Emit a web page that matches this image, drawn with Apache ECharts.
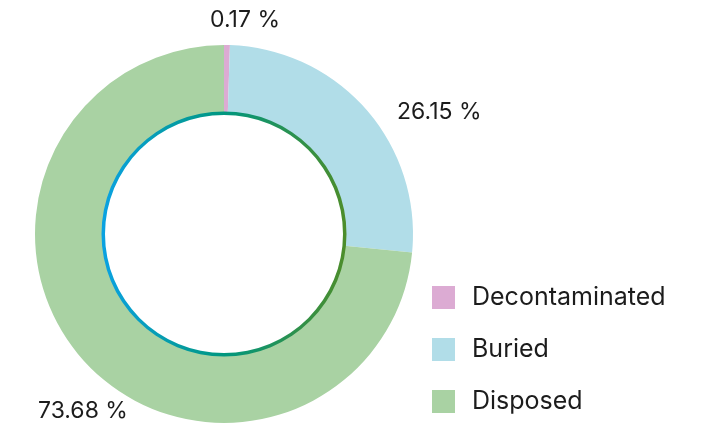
<!DOCTYPE html>
<html>
<head>
<meta charset="utf-8">
<script src="https://cdn.jsdelivr.net/npm/echarts@6/dist/echarts.min.js"></script>
<style>
  html, body { margin: 0; padding: 0; background: #fff; }
  #chart { width: 707px; height: 424px; }
</style>
</head>
<body>
<div id="chart"></div>
<script>
// share of waste by treatment (%)
var categories = ['Decontaminated', 'Buried', 'Disposed']
var values = [0.17, 26.15, 73.68]
var colors = ['#dcabd3', '#b1dde8', '#a9d2a3']

var chart = echarts.init(document.getElementById('chart'))

// where each percent label sits (left edge, vertical middle)
var labelPos = [
    { x: 210, y: 20 },
    { x: 397, y: 112 },
    { x: 38, y: 411 },
]

var option = {
    animation: false,
    legend: {
        orient: 'vertical',
        left: 432,
        top: 285,
        padding: 0,
        itemWidth: 23,
        itemHeight: 23,
        itemGap: 27,
        icon: 'rect',
        textStyle: {
            fontFamily: 'Inter',
            fontSize: 25,
            lineHeight: 23,
            color: '#1c1c1c',
            padding: [0, 0, 0, 12],
        },
        data: categories,
    },
    series: [
        {
            name: 'share',
            type: 'pie',
            center: [224, 234],
            radius: [121, 189],
            startAngle: 90,
            clockwise: true,
            minAngle: 1.8,
            avoidLabelOverlap: false,
            label: {
                show: true,
                position: 'outside',
                fontFamily: 'Inter',
                fontSize: 23,
                color: '#1c1c1c',
                formatter: function (p) {
                    return p.value + ' %'
                },
            },
            labelLine: { show: false },
            labelLayout: function (params) {
                var pos = labelPos[params.dataIndex]
                return { x: pos.x, y: pos.y, align: 'left', verticalAlign: 'middle' }
            },
            emphasis: { disabled: true },
            data: categories.map(function (name, i) {
                return { name: name, value: values[i], itemStyle: { color: colors[i] } }
            }),
        },
        {
            // gradient ring on the inner edge
            name: 'ring',
            type: 'pie',
            center: [224, 234],
            radius: [119, 122.5],
            silent: true,
            label: { show: false },
            labelLine: { show: false },
            data: [
                {
                    value: 1,
                    name: '',
                    itemStyle: {
                        color: new echarts.graphic.LinearGradient(0, 0, 1, 0, [
                            { offset: 0, color: '#0aa2e2' },
                            { offset: 0.5, color: '#00977f' },
                            { offset: 1, color: '#4d8d2a' },
                        ]),
                    },
                },
            ],
        },
    ],
}
option && chart.setOption(option)
</script>
</body>
</html>
